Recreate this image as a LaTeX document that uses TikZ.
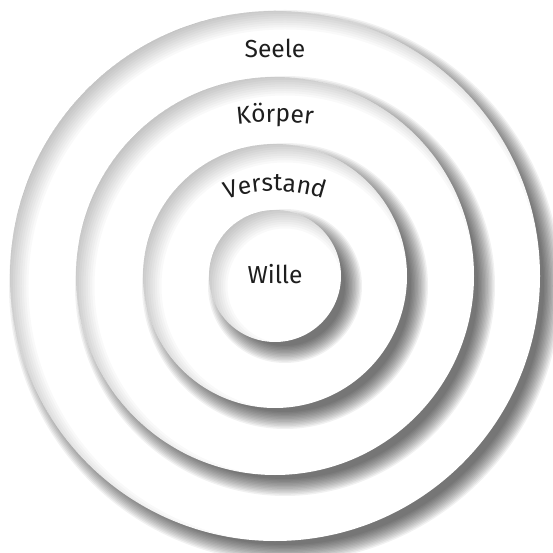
\documentclass[tikz,border=0pt]{standalone}
\usepackage{fontspec}
\setmainfont{Fira Sans}
\usetikzlibrary{decorations.text}
\definecolor{inkgrey}{HTML}{1E1E1E}

\begin{document}
\begin{tikzpicture}[x=1cm,y=1cm,
  lbl/.style={font=\fontsize{14}{16}\selectfont, text=inkgrey, inner sep=0pt},
  arctext/.style={decorate, decoration={text along path, text align=center,
    text={|\fontsize{14}{16}\selectfont\color{inkgrey}|#1}}}]
\useasboundingbox (-5.5,-5.54) rectangle (5.56,5.52);
\fill[white] (-5.5,-5.54) rectangle (5.56,5.52);
\coordinate (c) at (0,0);
% discs from outside in: drop shadow, white disc, soft inner shade
\foreach \r in {5.3,3.98,2.64,1.32}{
  \foreach \k in {0,...,12}
    \fill[black,opacity=0.055] ([shift={(0.2,-0.2)}]c) circle ({\r-0.12+0.34*\k/12});
  \fill[white] (c) circle (\r);
  \begin{scope}
    \clip (c) circle (\r);
    \foreach \k in {0,...,10}
      \fill[black,opacity=0.022,even odd rule] ([shift={(0.2,-0.2)}]c) circle ({\r+1}) circle ({\r+0.28-0.45*\k/10});
  \end{scope}
}
% labels
\node[lbl,anchor=base] (seele) at (0,4.36) {Seele};
\node[lbl,anchor=base] (wille) at (0,-0.16) {Wille};
\coordinate (kc) at (0,-2.92);
\path (kc) ++(100:6) coordinate (ks);
\path[arctext=Körper] (ks) arc[start angle=100,end angle=80,radius=6];
\coordinate (vc) at (0,-1.3);
\path (vc) ++(122:3.0) coordinate (vs);
\path[arctext=Verstand] (vs) arc[start angle=122,end angle=58,radius=3.0];
\end{tikzpicture}
\end{document}
